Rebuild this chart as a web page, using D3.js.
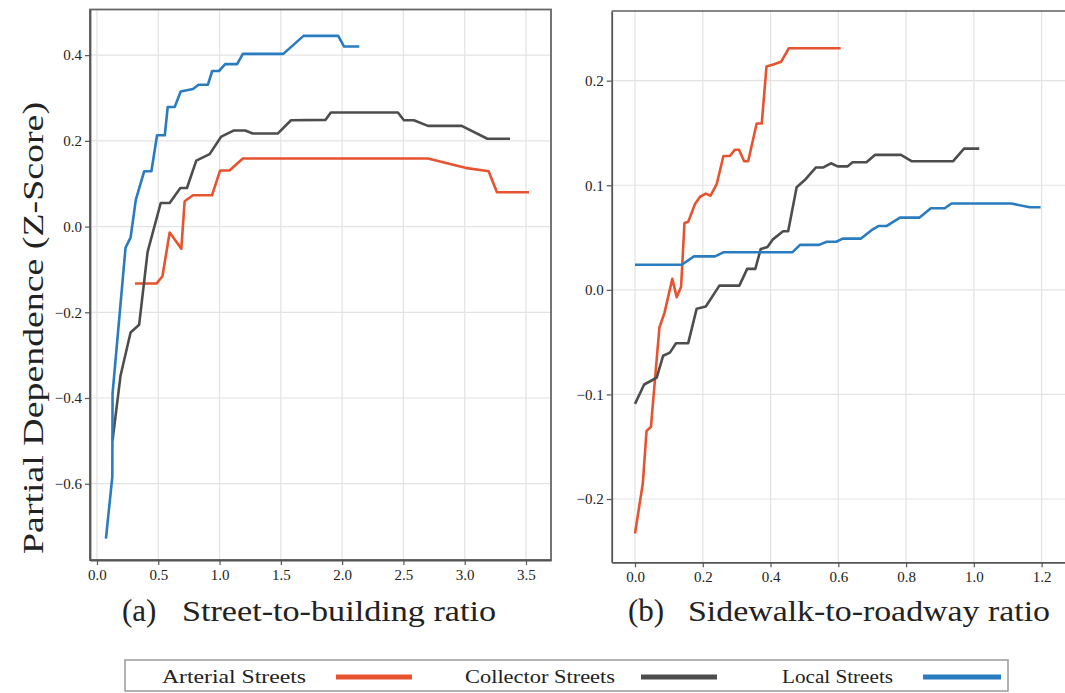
<!DOCTYPE html>
<html>
<head>
<meta charset="utf-8">
<script src="https://cdn.jsdelivr.net/npm/d3@7"></script>
<style>
  html, body { margin: 0; padding: 0; background: #fff; }
  svg { display: block; }
  svg text { font-family: "Times New Roman", "Liberation Serif", Tinos, Times, serif; fill: #222; }
</style>
</head>
<body>
<svg id="chart" width="1065" height="693"></svg>
<script>
// ---- Series names and colours ----
const seriesNames = ["Arterial Streets", "Collector Streets", "Local Streets"];
const seriesColors = ["#e8532f", "#4d4d4d", "#2a7cc0"];

// ---- Panel (a): street-to-building ratio ----
const aArterialX = [0.31, 0.485, 0.534, 0.593, 0.688, 0.715, 0.783, 0.938, 1.005, 1.081, 1.19, 2.70, 3.005, 3.195, 3.263, 3.525];
const aArterialY = [-0.133, -0.133, -0.116, -0.014, -0.052, 0.059, 0.073, 0.073, 0.131, 0.131, 0.159, 0.159, 0.137, 0.129, 0.080, 0.080];

const aCollectorX = [0.127, 0.192, 0.274, 0.344, 0.413, 0.52, 0.593, 0.68, 0.734, 0.81, 0.919, 1.014, 1.114, 1.209, 1.271, 1.474, 1.583, 1.865, 1.908, 2.455, 2.504, 2.585, 2.70, 2.975, 3.185, 3.37];
const aCollectorY = [-0.499, -0.348, -0.247, -0.229, -0.059, 0.055, 0.055, 0.09, 0.09, 0.154, 0.169, 0.21, 0.224, 0.224, 0.217, 0.217, 0.248, 0.249, 0.266, 0.266, 0.248, 0.248, 0.235, 0.235, 0.205, 0.205];

const aLocalX = [0.073, 0.125, 0.127, 0.233, 0.274, 0.317, 0.385, 0.444, 0.49, 0.553, 0.577, 0.634, 0.683, 0.783, 0.829, 0.905, 0.94, 0.995, 1.046, 1.143, 1.19, 1.52, 1.685, 1.968, 2.016, 2.14];
const aLocalY = [-0.728, -0.584, -0.39, -0.049, -0.026, 0.063, 0.129, 0.129, 0.213, 0.213, 0.279, 0.279, 0.315, 0.321, 0.331, 0.331, 0.363, 0.363, 0.379, 0.379, 0.403, 0.403, 0.445, 0.445, 0.42, 0.42];

const aXTicks = [0, 0.5, 1.0, 1.5, 2.0, 2.5, 3.0, 3.5];
const aYTicks = [-0.6, -0.4, -0.2, 0.0, 0.2, 0.4];

// ---- Panel (b): sidewalk-to-roadway ratio ----
const bArterialX = [0, 0.023, 0.034, 0.047, 0.072, 0.087, 0.11, 0.123, 0.136, 0.146, 0.157, 0.177, 0.192, 0.209, 0.223, 0.241, 0.261, 0.28, 0.295, 0.307, 0.322, 0.334, 0.359, 0.374, 0.388, 0.408, 0.431, 0.454, 0.607];
const bArterialY = [-0.233, -0.185, -0.135, -0.131, -0.036, -0.022, 0.0105, -0.007, 0.003, 0.064, 0.065, 0.082, 0.089, 0.092, 0.090, 0.101, 0.128, 0.128, 0.134, 0.134, 0.123, 0.123, 0.159, 0.159, 0.2135, 0.2155, 0.218, 0.231, 0.231];

const bCollectorX = [0, 0.027, 0.049, 0.064, 0.083, 0.103, 0.121, 0.157, 0.182, 0.209, 0.249, 0.308, 0.331, 0.355, 0.371, 0.391, 0.406, 0.437, 0.452, 0.477, 0.501, 0.534, 0.556, 0.578, 0.598, 0.627, 0.642, 0.683, 0.708, 0.785, 0.816, 0.939, 0.971, 1.016];
const bCollectorY = [-0.109, -0.0905, -0.0867, -0.084, -0.063, -0.06, -0.051, -0.051, -0.018, -0.016, 0.004, 0.004, 0.020, 0.020, 0.039, 0.041, 0.048, 0.056, 0.056, 0.098, 0.105, 0.117, 0.117, 0.121, 0.118, 0.118, 0.122, 0.122, 0.129, 0.129, 0.123, 0.123, 0.135, 0.135];

const bLocalX = [0, 0.138, 0.174, 0.236, 0.262, 0.465, 0.487, 0.543, 0.566, 0.594, 0.613, 0.667, 0.698, 0.718, 0.742, 0.782, 0.839, 0.873, 0.914, 0.934, 1.111, 1.165, 1.197];
const bLocalY = [0.024, 0.024, 0.032, 0.032, 0.036, 0.036, 0.043, 0.043, 0.046, 0.046, 0.049, 0.049, 0.057, 0.061, 0.061, 0.069, 0.069, 0.078, 0.078, 0.0825, 0.0825, 0.079, 0.079];

const bXTicks = [0, 0.2, 0.4, 0.6, 0.8, 1.0, 1.2];
const bYTicks = [-0.2, -0.1, 0.0, 0.1, 0.2];

const zip = (xs, ys) => xs.map((x, i) => ({ x, y: ys[i] }));

const serifStack = "'Times New Roman', 'Liberation Serif', Tinos, Times, serif";

const panels = [
  {
    left: 90, right: 551, top: 9.5, bottom: 560,
    xDomain: [-0.057, 3.704], yDomain: [-0.778, 0.5065],
    xTicks: aXTicks, yTicks: aYTicks,
    series: [zip(aArterialX, aArterialY), zip(aCollectorX, aCollectorY), zip(aLocalX, aLocalY)],
    label: "(a)", title: "Street-to-building ratio",
    labelX: 122, titleX: 182, titleW: 314,
    fullFrame: true
  },
  {
    left: 611.7, right: 1065, top: 11, bottom: 562.3,
    xDomain: [-0.0688, 1.269], yDomain: [-0.2605, 0.2666],
    xTicks: bXTicks, yTicks: bYTicks,
    series: [zip(bArterialX, bArterialY), zip(bCollectorX, bCollectorY), zip(bLocalX, bLocalY)],
    label: "(b)", title: "Sidewalk-to-roadway ratio",
    labelX: 628, titleX: 688, titleW: 362,
    fullFrame: false
  }
];

const svg = d3.select("#chart");
const fmt = d3.format(".1f");

panels.forEach(p => {
  const x = d3.scaleLinear().domain(p.xDomain).range([p.left, p.right]);
  const y = d3.scaleLinear().domain(p.yDomain).range([p.bottom, p.top]);
  const g = svg.append("g");

  // grid
  g.append("g").selectAll("line").data(p.xTicks).join("line")
    .attr("x1", d => x(d)).attr("x2", d => x(d))
    .attr("y1", p.top).attr("y2", p.bottom)
    .attr("stroke", "#e3e3e3").attr("stroke-width", 1.2);
  g.append("g").selectAll("line").data(p.yTicks).join("line")
    .attr("x1", p.left).attr("x2", p.right)
    .attr("y1", d => y(d)).attr("y2", d => y(d))
    .attr("stroke", "#e3e3e3").attr("stroke-width", 1.2);

  // series lines
  const line = d3.line().x(d => x(d.x)).y(d => y(d.y));
  p.series.forEach((s, i) => {
    g.append("path").datum(s)
      .attr("d", line)
      .attr("fill", "none")
      .attr("stroke", seriesColors[i])
      .attr("stroke-width", 2.6)
      .attr("stroke-linejoin", "round")
      .attr("stroke-linecap", "butt");
  });

  // frame
  if (p.fullFrame) {
    g.append("rect")
      .attr("x", p.left).attr("y", p.top)
      .attr("width", p.right - p.left).attr("height", p.bottom - p.top)
      .attr("fill", "none").attr("stroke", "#666").attr("stroke-width", 1.8);
  } else {
    g.append("line").attr("x1", p.left).attr("x2", p.right)
      .attr("y1", p.top).attr("y2", p.top)
      .attr("stroke", "#111").attr("stroke-width", 1.2);
  }

  // axes
  const xAxis = d3.axisBottom(x).tickValues(p.xTicks).tickFormat(fmt).tickSizeOuter(0).tickSizeInner(5).tickPadding(4);
  const yAxis = d3.axisLeft(y).tickValues(p.yTicks).tickFormat(fmt).tickSizeOuter(0).tickSizeInner(5).tickPadding(3);
  const gx = g.append("g").attr("transform", `translate(0,${p.bottom})`).call(xAxis);
  const gy = g.append("g").attr("transform", `translate(${p.left},0)`).call(yAxis);
  [gx, gy].forEach(a => {
    a.attr("font-family", serifStack).attr("font-size", 15);
    a.select(".domain").attr("stroke", "#555").attr("stroke-width", 1.8);
    a.selectAll(".tick line").attr("stroke", "#555").attr("stroke-width", 1.2);
    a.selectAll(".tick text").attr("fill", "#333");
  });

  // panel caption
  svg.append("text").attr("x", p.labelX).attr("y", 621)
    .attr("font-family", serifStack).attr("font-size", 31).attr("fill", "#222").text(p.label);
  svg.append("text").attr("x", p.titleX).attr("y", 621)
    .attr("font-family", serifStack).attr("font-size", 30).attr("fill", "#222")
    .attr("textLength", p.titleW).attr("lengthAdjust", "spacingAndGlyphs")
    .text(p.title);
});

// y-axis title
svg.append("text")
  .attr("transform", "translate(43,328) rotate(-90)")
  .attr("text-anchor", "middle")
  .attr("font-family", serifStack).attr("font-size", 29).attr("fill", "#222")
  .attr("textLength", 452).attr("lengthAdjust", "spacingAndGlyphs")
  .text("Partial Dependence (Z-Score)");

// legend
const legend = svg.append("g");
legend.append("rect")
  .attr("x", 125).attr("y", 660).attr("width", 883).attr("height", 31)
  .attr("fill", "#fff").attr("stroke", "#9a9a9a").attr("stroke-width", 1.5);
const legendItems = [
  { textX: 162, textW: 144, lineX1: 336, lineX2: 412 },
  { textX: 465, textW: 150, lineX1: 641, lineX2: 717 },
  { textX: 782, textW: 111, lineX1: 923, lineX2: 1001 }
];
legendItems.forEach((it, i) => {
  legend.append("text").attr("x", it.textX).attr("y", 683)
    .attr("font-family", serifStack).attr("font-size", 19).attr("fill", "#333")
    .attr("textLength", it.textW).attr("lengthAdjust", "spacingAndGlyphs")
    .text(seriesNames[i]);
  legend.append("line")
    .attr("x1", it.lineX1).attr("x2", it.lineX2)
    .attr("y1", 677).attr("y2", 677)
    .attr("stroke", seriesColors[i]).attr("stroke-width", 5);
});
</script>
</body>
</html>
